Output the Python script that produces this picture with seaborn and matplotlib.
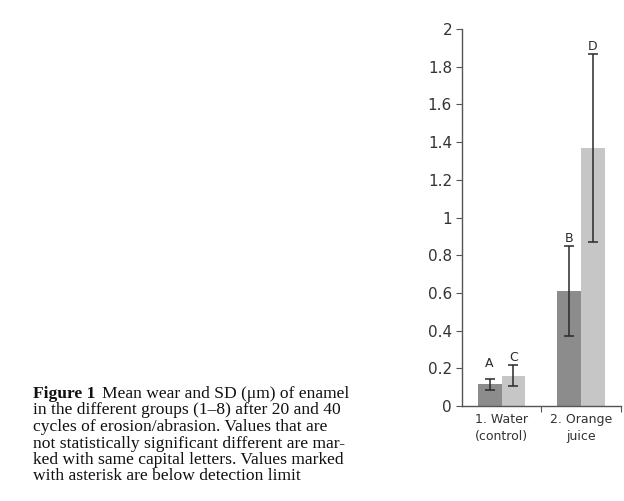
import pandas as pd
import matplotlib.pyplot as plt
import seaborn as sns

# Data
groups = ["1. Water\n(control)", "2. Orange\njuice"]
cycles = ["20 cycles", "40 cycles"]
mean_20 = [0.115, 0.61]
mean_40 = [0.16, 1.37]
sd_20 = [0.03, 0.24]
sd_40 = [0.055, 0.50]
letters_20 = ["A", "B"]
letters_40 = ["C", "D"]

df = pd.DataFrame({
    "group": groups * 2,
    "cycles": [cycles[0]] * 2 + [cycles[1]] * 2,
    "wear": mean_20 + mean_40,
    "sd": sd_20 + sd_40,
    "letter": letters_20 + letters_40,
})

sns.set_style("white")
plt.rcParams["font.family"] = ["DejaVu Sans"]

fig = plt.figure(figsize=(6.24, 5.01), dpi=100)
ax = fig.add_axes([0.740, 0.1896, 0.255, 0.7524])

sns.barplot(data=df, x="group", y="wear", hue="cycles", order=groups,
            hue_order=cycles, palette=["#8c8c8c", "#c6c6c6"],
            width=0.6, gap=0, errorbar=None, legend=False, ax=ax,
            saturation=1, linewidth=0)

# error bars and significance letters (A sits a bit higher than the rest)
label_pad = [0.08, 0.04, 0.04, 0.04]
for patch, (_, row), pad in zip(ax.patches, df.iterrows(), label_pad):
    xc = patch.get_x() + patch.get_width() / 2
    ax.errorbar(xc, row["wear"], yerr=row["sd"], color="#2a2a2a",
                capsize=3.3, elinewidth=1.1, capthick=1.1)
    ax.text(xc, row["wear"] + row["sd"] + pad, row["letter"],
            ha="center", va="center", fontsize=9, color="#2a2a2a")

ax.set_xlim(-0.5, 1.5)
ax.set_ylim(0, 2)
ax.set_yticks([0, 0.2, 0.4, 0.6, 0.8, 1, 1.2, 1.4, 1.6, 1.8, 2])
ax.set_yticklabels(["0", "0.2", "0.4", "0.6", "0.8", "1", "1.2", "1.4",
                    "1.6", "1.8", "2"], fontsize=11, color="#333333")
ax.set_xticks([0.5, 1.5], minor=False)
ax.set_xticklabels([])
ax.set_xticks([0, 1], minor=True)
ax.set_xticklabels(groups, minor=True, fontsize=9, color="#333333",
                   linespacing=1.45)
ax.tick_params(axis="x", which="minor", length=0, pad=5)
ax.tick_params(axis="x", which="major", length=4, direction="out",
               bottom=True, color="#555555")
ax.tick_params(axis="y", length=4, direction="out", left=True,
               color="#555555", pad=3)
ax.set_xlabel("")
ax.set_ylabel("")
for s in ["top", "right"]:
    ax.spines[s].set_visible(False)
for s in ["left", "bottom"]:
    ax.spines[s].set_color("#555555")
    ax.spines[s].set_linewidth(1)

# caption
caption_lines = [
    "in the different groups (1\u20138) after 20 and 40",
    "cycles of erosion/abrasion. Values that are",
    "not statistically significant different are mar-",
    "ked with same capital letters. Values marked",
    "with asterisk are below detection limit",
]
cap_size = 12.6
y0 = 1 - 398 / 501
fig.text(33 / 624, y0, "Figure 1", fontsize=cap_size, fontweight="bold",
         family="Liberation Serif", va="baseline", color="#111111")
fig.text(102 / 624, y0, "Mean wear and SD (\u03bcm) of enamel",
         fontsize=cap_size, family="Liberation Serif", va="baseline",
         color="#111111")
for i, line in enumerate(caption_lines):
    fig.text(33 / 624, y0 - (i + 1) * 16.5 / 501, line, fontsize=cap_size,
             family="Liberation Serif", va="baseline", color="#111111")

plt.savefig("out.png", dpi=100)
